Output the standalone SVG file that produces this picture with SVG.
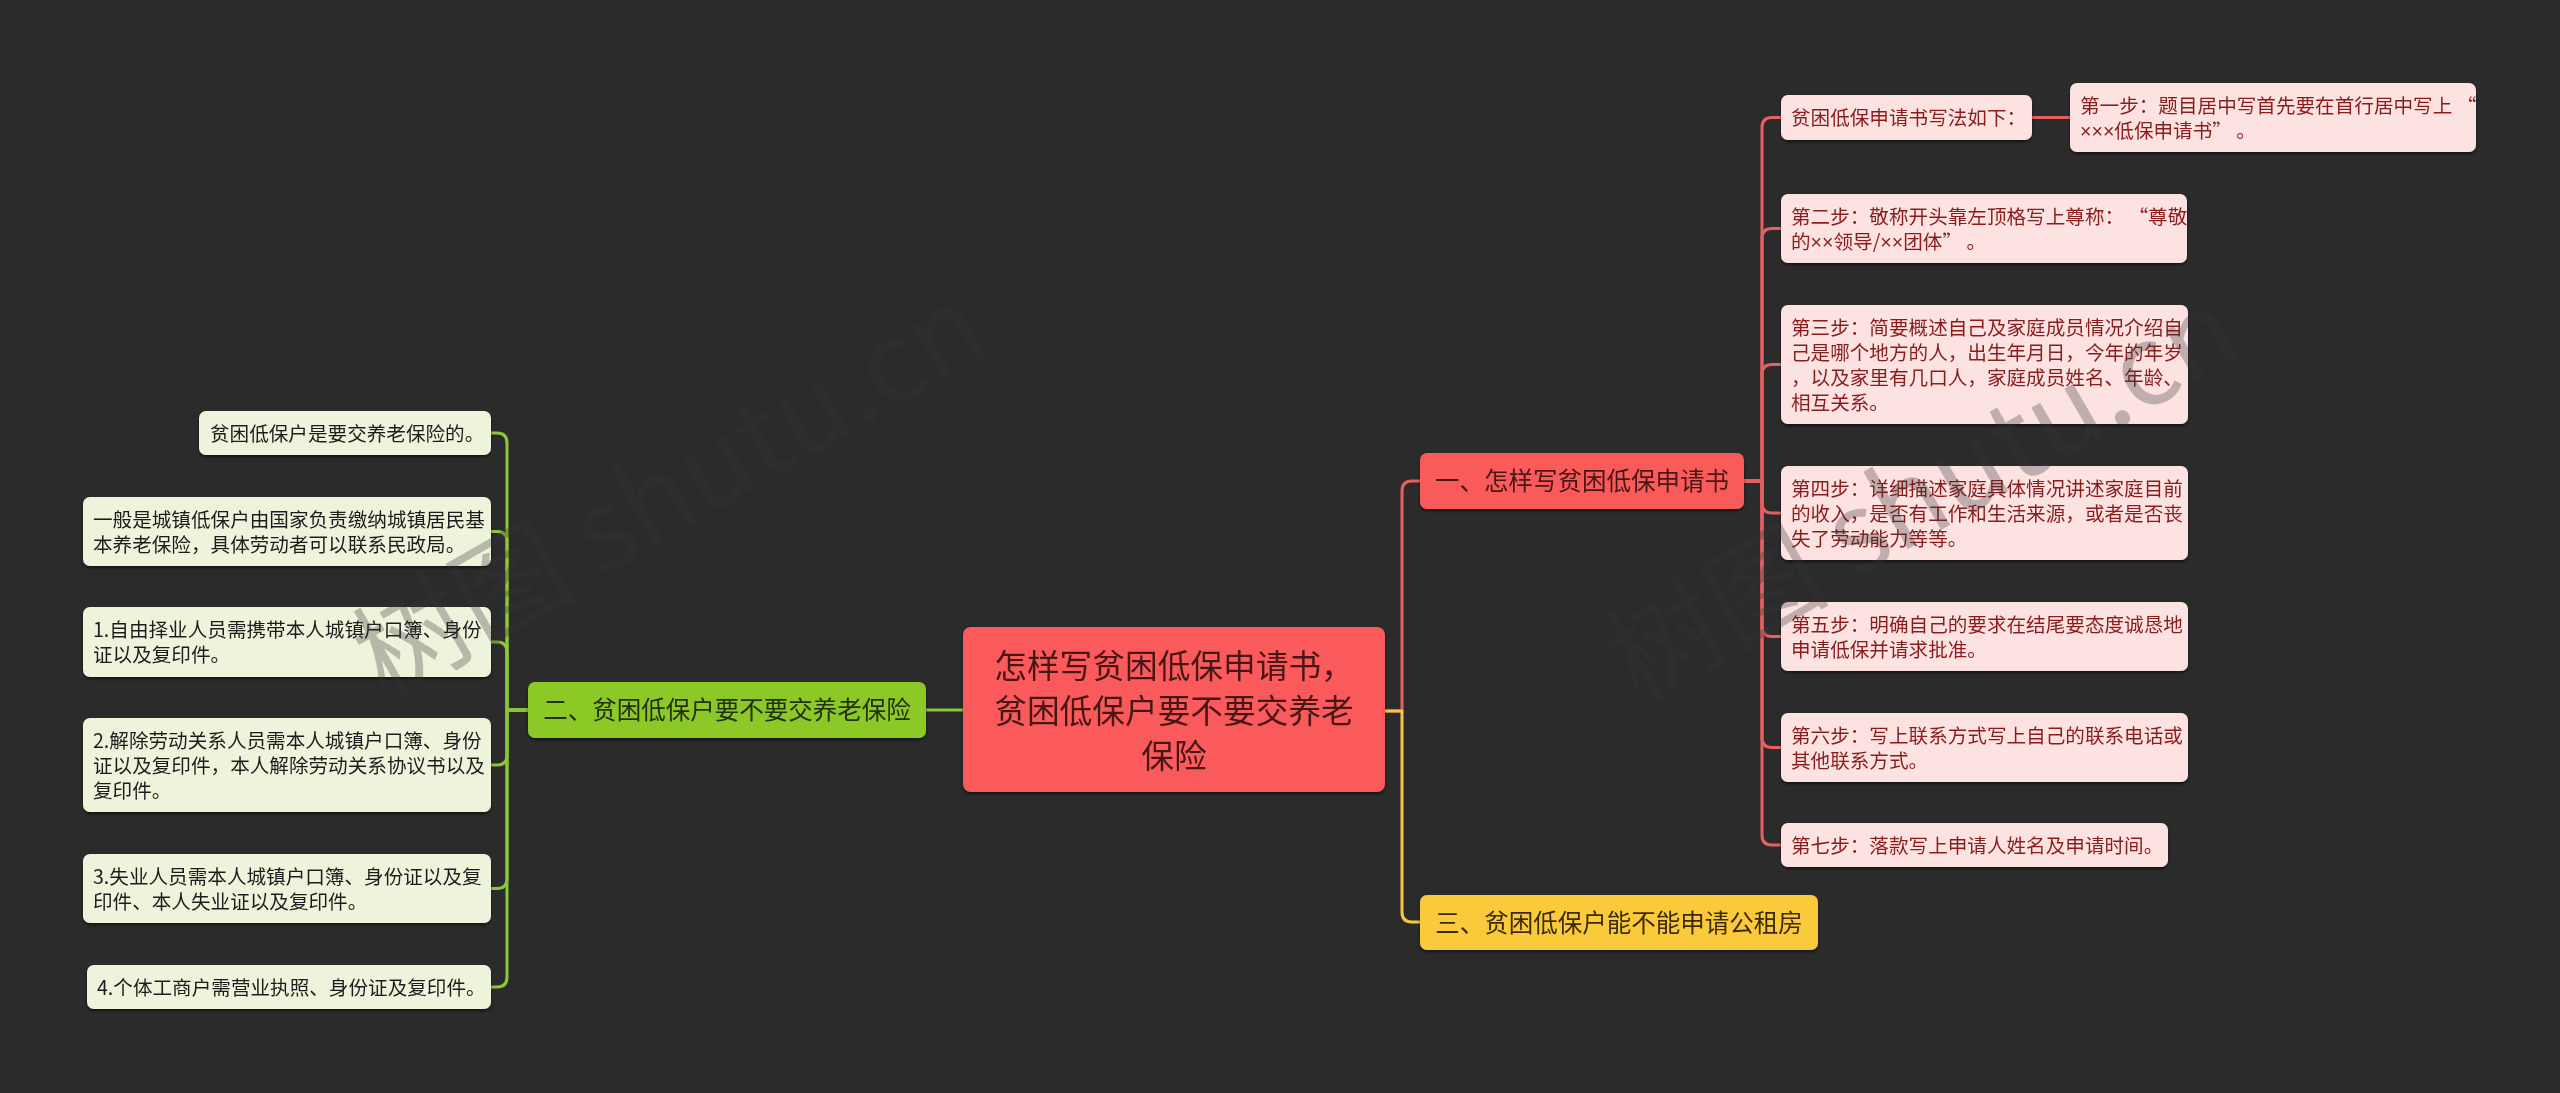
<svg xmlns="http://www.w3.org/2000/svg" width="2560" height="1093" viewBox="0 0 2560 1093">
<defs>
<filter id="sh" x="-5%" y="-10%" width="110%" height="130%">
<feDropShadow dx="0" dy="2" stdDeviation="1.5" flood-color="#000" flood-opacity="0.55"/>
</filter>
<style>
text{font-family:"Noto Sans CJK SC","Noto Sans",sans-serif;}
.lat{font-family:"Liberation Sans","DejaVu Sans",sans-serif;}
.c{fill:none;stroke-width:3;stroke-linecap:round;stroke-linejoin:round;}
.cr{stroke:#e85f5f;}
.cg{stroke:#8cc63a;}
.cy{stroke:#f6c744;}
.root rect{fill:#fb5a5c;}
.root text{fill:#4a1616;font-size:32.7px;text-anchor:middle;}
.l1r rect{fill:#f95a5a;}
.l1r text{fill:#4a1616;font-size:24.5px;text-anchor:middle;}
.l1g rect{fill:#8cc827;}
.l1g text{fill:#22300a;font-size:24.5px;text-anchor:middle;}
.l1y rect{fill:#fbca3a;}
.l1y text{fill:#3a2c00;font-size:24.5px;text-anchor:middle;}
.sr rect{fill:#fde2e2;}
.sr text{fill:#8a1c1c;font-size:19.6px;}
.sg rect{fill:#eef4dc;}
.sg text{fill:#1e1e1e;font-size:19.6px;}
.wm{font-family:"Noto Sans CJK SC",sans-serif;font-size:112px;fill:#353535;opacity:0.3;}
</style>
</defs>
<rect width="2560" height="1093" fill="#2b2b2b"/>

<g id="connectors">
<path class="c cg" d="M963,710 H926"/>
<path class="c cr" d="M1385,711 H1402 V491 Q1402,481 1412,481 H1420"/>
<path class="c cy" d="M1385,711 H1402 V912 Q1402,922 1412,922 H1420"/>
<path class="c cr" d="M1744,481 H1762 V127.5 Q1762,117.5 1772,117.5 H1781"/>
<path class="c cr" d="M1744,481 H1762 V238.5 Q1762,228.5 1772,228.5 H1781"/>
<path class="c cr" d="M1744,481 H1762 V374.5 Q1762,364.5 1772,364.5 H1781"/>
<path class="c cr" d="M1744,481 H1762 V503 Q1762,513 1772,513 H1781"/>
<path class="c cr" d="M1744,481 H1762 V626.5 Q1762,636.5 1772,636.5 H1781"/>
<path class="c cr" d="M1744,481 H1762 V737.5 Q1762,747.5 1772,747.5 H1781"/>
<path class="c cr" d="M1744,481 H1762 V835 Q1762,845 1772,845 H1781"/>
<path class="c cr" d="M2032,117.5 H2070"/>
<path class="c cg" d="M528,710 H507 V443 Q507,433 497,433 H491"/>
<path class="c cg" d="M528,710 H507 V541.5 Q507,531.5 497,531.5 H491"/>
<path class="c cg" d="M528,710 H507 V652 Q507,642 497,642 H491"/>
<path class="c cg" d="M528,710 H507 V755 Q507,765 497,765 H491"/>
<path class="c cg" d="M528,710 H507 V878.5 Q507,888.5 497,888.5 H491"/>
<path class="c cg" d="M528,710 H507 V977 Q507,987 497,987 H491"/>
</g>

<g id="root" class="root" filter="url(#sh)">
<rect x="963" y="627" width="422" height="165" rx="8"/>
<text x="1174" y="677.5">怎样写贫困低保申请书，</text>
<text x="1174" y="722.5">贫困低保户要不要交养老</text>
<text x="1174" y="767.5">保险</text>
</g>

<g id="n1" class="l1r" filter="url(#sh)">
<rect x="1420" y="453" width="324" height="56" rx="7"/>
<text x="1582" y="490.3">一、怎样写贫困低保申请书</text>
</g>
<g id="n2" class="l1g" filter="url(#sh)">
<rect x="528" y="682" width="398" height="56" rx="7"/>
<text x="727" y="719.3">二、贫困低保户要不要交养老保险</text>
</g>
<g id="n3" class="l1y" filter="url(#sh)">
<rect x="1420" y="895" width="398" height="55" rx="7"/>
<text x="1619" y="931.8">三、贫困低保户能不能申请公租房</text>
</g>

<g id="s0" class="sr" filter="url(#sh)">
<rect x="1781" y="95" width="251" height="45" rx="7"/>
<text x="1791" y="125">贫困低保申请书写法如下：</text>
</g>
<g id="s1" class="sr" filter="url(#sh)">
<rect x="2070" y="83" width="406" height="69" rx="7"/>
<text x="2080" y="112.5">第一步：题目居中写首先要在首行居中写上 “</text>
<text x="2080" y="137.5"><tspan class="lat">×××</tspan>低保申请书” 。</text>
</g>
<g id="s2" class="sr" filter="url(#sh)">
<rect x="1781" y="194" width="406" height="69" rx="7"/>
<text x="1791" y="223.5">第二步：敬称开头靠左顶格写上尊称：  “尊敬</text>
<text x="1791" y="248.5">的<tspan class="lat">××</tspan>领导/<tspan class="lat">××</tspan>团体” 。</text>
</g>
<g id="s3" class="sr" filter="url(#sh)">
<rect x="1781" y="305" width="407" height="119" rx="7"/>
<text x="1791" y="334.5">第三步：简要概述自己及家庭成员情况介绍自</text>
<text x="1791" y="359.5">己是哪个地方的人，出生年月日，今年的年岁</text>
<text x="1791" y="384.5">，以及家里有几口人，家庭成员姓名、年龄、</text>
<text x="1791" y="409.5">相互关系。</text>
</g>
<g id="s4" class="sr" filter="url(#sh)">
<rect x="1781" y="466" width="407" height="94" rx="7"/>
<text x="1791" y="495.5">第四步：详细描述家庭具体情况讲述家庭目前</text>
<text x="1791" y="520.5">的收入，是否有工作和生活来源，或者是否丧</text>
<text x="1791" y="545.5">失了劳动能力等等。</text>
</g>
<g id="s5" class="sr" filter="url(#sh)">
<rect x="1781" y="602" width="407" height="69" rx="7"/>
<text x="1791" y="631.5">第五步：明确自己的要求在结尾要态度诚恳地</text>
<text x="1791" y="656.5">申请低保并请求批准。</text>
</g>
<g id="s6" class="sr" filter="url(#sh)">
<rect x="1781" y="713" width="407" height="69" rx="7"/>
<text x="1791" y="742.5">第六步：写上联系方式写上自己的联系电话或</text>
<text x="1791" y="767.5">其他联系方式。</text>
</g>
<g id="s7" class="sr" filter="url(#sh)">
<rect x="1781" y="823" width="387" height="44" rx="7"/>
<text x="1791" y="852.5">第七步：落款写上申请人姓名及申请时间。</text>
</g>

<g id="g1" class="sg" filter="url(#sh)">
<rect x="199" y="411" width="292" height="44" rx="7"/>
<text x="210" y="440.5">贫困低保户是要交养老保险的。</text>
</g>
<g id="g2" class="sg" filter="url(#sh)">
<rect x="83" y="497" width="408" height="69" rx="7"/>
<text x="93" y="526.5">一般是城镇低保户由国家负责缴纳城镇居民基</text>
<text x="93" y="551.5">本养老保险，具体劳动者可以联系民政局。</text>
</g>
<g id="g3" class="sg" filter="url(#sh)">
<rect x="83" y="607" width="408" height="70" rx="7"/>
<text x="93" y="637">1.自由择业人员需携带本人城镇户口簿、身份</text>
<text x="93" y="662">证以及复印件。</text>
</g>
<g id="g4" class="sg" filter="url(#sh)">
<rect x="83" y="718" width="408" height="94" rx="7"/>
<text x="93" y="747.5">2.解除劳动关系人员需本人城镇户口簿、身份</text>
<text x="93" y="772.5">证以及复印件，本人解除劳动关系协议书以及</text>
<text x="93" y="797.5">复印件。</text>
</g>
<g id="g5" class="sg" filter="url(#sh)">
<rect x="83" y="854" width="408" height="69" rx="7"/>
<text x="93" y="883.5">3.失业人员需本人城镇户口簿、身份证以及复</text>
<text x="93" y="908.5">印件、本人失业证以及复印件。</text>
</g>
<g id="g6" class="sg" filter="url(#sh)">
<rect x="87" y="965" width="404" height="44" rx="7"/>
<text x="97" y="994.5">4.个体工商户需营业执照、身份证及复印件。</text>
</g>

<g id="watermarks">
<text class="wm" transform="translate(385,702) rotate(-30)">树图 shutu.cn</text>
<text class="wm" transform="translate(1638,705) rotate(-30)">树图 shutu.cn</text>
</g>
</svg>
